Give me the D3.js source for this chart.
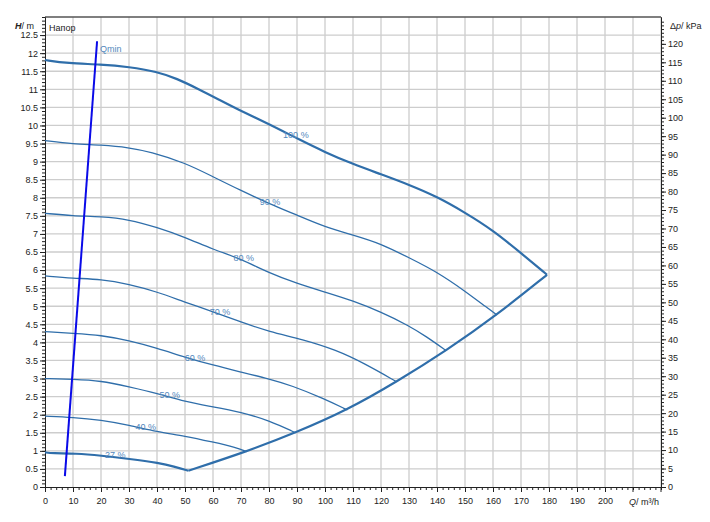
<!DOCTYPE html>
<html>
<head>
<meta charset="utf-8">
<script src="https://cdn.jsdelivr.net/npm/d3@7"></script>
<style>
  body { margin: 0; background: #fff; }
  text { font-family: "Liberation Sans", Arial, sans-serif; }
</style>
</head>
<body>
<script>
// pump curves, Q in m3/h, H in m
const speeds = ["100 %", "90 %", "80 %", "70 %", "60 %", "50 %", "40 %", "27 %"];

const curve100 = [[0,11.81],[8,11.72],[20,11.69],[30,11.62],[40,11.49],[47,11.3],[55,11.0],[62,10.72],[70,10.4],[80,10.04],[90,9.64],[100,9.26],[110,8.93],[120,8.65],[130,8.36],[140,8.03],[150,7.59],[160,7.1],[170,6.47],[179.3,5.87]];
const curve90 = [[0,9.58],[10,9.49],[20,9.46],[30,9.39],[37.5,9.27],[50,8.97],[60,8.58],[70,8.2],[80,7.84],[90,7.52],[100,7.19],[110,6.97],[120,6.73],[130,6.34],[140,5.95],[150,5.42],[158,4.95],[161.4,4.76]];
const curve80 = [[0,7.57],[10,7.5],[20,7.48],[30,7.4],[40,7.18],[50,6.91],[60,6.57],[70,6.31],[80,5.92],[90,5.63],[100,5.39],[110,5.15],[120,4.84],[130,4.46],[136,4.17],[143.3,3.77]];
const curve70 = [[0,5.84],[10,5.77],[20,5.75],[30,5.61],[40,5.4],[50,5.11],[60,4.85],[70,4.56],[80,4.3],[92,4.08],[104,3.79],[114,3.42],[125.6,2.91]];
const curve60 = [[0,4.3],[10,4.25],[20,4.2],[30,4.05],[40,3.84],[50,3.59],[60,3.37],[70,3.18],[80,2.99],[88,2.81],[99.4,2.45],[108,2.13]];
const curve50 = [[0,3.0],[10,2.98],[20,2.94],[30,2.77],[40,2.59],[50,2.36],[60,2.22],[70,2.07],[80,1.84],[89.5,1.5]];
const curve40 = [[0,1.96],[10,1.93],[20,1.85],[30,1.71],[40,1.53],[50,1.41],[60,1.24],[68,1.1],[72,0.98]];
const curve27 = [[0,0.96],[2.5,0.93],[11,0.93],[20,0.87],[30,0.78],[41,0.66],[46,0.57],[51.2,0.45]];

const curves = [curve100, curve90, curve80, curve70, curve60, curve50, curve40, curve27];
const labelQ = [89.6, 80.4, 71, 62.5, 53.6, 44.6, 36, 25.1];

const maxFlow = [[51.2,0.45],[72,0.98],[89.5,1.5],[108,2.13],[125.6,2.91],[143.3,3.77],[161.4,4.76],[179.3,5.87]];
const qmin = [[7.1,0.3],[18.6,12.33]];

const qTicks = d3.range(0, 201, 10);
const hTicks = d3.range(0, 12.51, 0.5);
const pTicks = d3.range(0, 121, 5);
const rhoG = 9.79; // kPa per m

const width = 710, height = 522;
const plotL = 45, plotR = 661, plotT = 17, plotB = 487;

const x = d3.scaleLinear().domain([0, 220]).range([plotL, plotR]);
const y = d3.scaleLinear().domain([0, 13]).range([plotB, plotT]);
const yp = d3.scaleLinear().domain([0, 13 * rhoG]).range([plotB, plotT]);

const blue = "#2f6eaa";
const labelBlue = "#5288bd";

const svg = d3.select("body").append("svg")
    .attr("width", width)
    .attr("height", height);

// grid
svg.append("g").selectAll("line")
  .data(d3.range(10, 221, 10))
  .enter().append("line")
  .attr("x1", d => x(d)).attr("x2", d => x(d))
  .attr("y1", plotT).attr("y2", plotB)
  .attr("stroke", "#cdcdcd").attr("stroke-width", 1.3);

svg.append("g").selectAll("line")
  .data(d3.range(0.5, 13, 0.5))
  .enter().append("line")
  .attr("x1", plotL).attr("x2", plotR)
  .attr("y1", d => y(d)).attr("y2", d => y(d))
  .attr("stroke", "#cdcdcd").attr("stroke-width", 1.3);

svg.append("line")
  .attr("x1", plotL).attr("x2", plotR)
  .attr("y1", plotT).attr("y2", plotT)
  .attr("stroke", "#555").attr("stroke-width", 1.5);

// axes
function styleAxis(g) {
  g.select(".domain").attr("stroke", "#222");
  g.selectAll(".tick line").attr("stroke", "#222");
  g.selectAll("text").attr("fill", "#222").style("font-size", "9px");
}

svg.append("g").attr("transform", `translate(${plotL},0)`)
  .call(d3.axisLeft(y).tickValues(d3.range(0, 13.01, 0.1)).tickSize(3).tickFormat("").tickSizeOuter(0))
  .call(styleAxis);
svg.append("g").attr("transform", `translate(${plotL},0)`)
  .call(d3.axisLeft(y).tickValues(hTicks).tickSize(5).tickPadding(2).tickFormat(d => String(d)).tickSizeOuter(0))
  .call(styleAxis);

svg.append("g").attr("transform", `translate(${plotR},0)`)
  .call(d3.axisRight(yp).tickValues(d3.range(0, 127, 1)).tickSize(3).tickFormat("").tickSizeOuter(0))
  .call(styleAxis);
svg.append("g").attr("transform", `translate(${plotR},0)`)
  .call(d3.axisRight(yp).tickValues(pTicks).tickSize(5).tickPadding(2).tickSizeOuter(0))
  .call(styleAxis);

svg.append("g").attr("transform", `translate(0,${plotB})`)
  .call(d3.axisBottom(x).tickValues(d3.range(0, 220.1, 2)).tickSize(3).tickFormat("").tickSizeOuter(0))
  .call(styleAxis);
svg.append("g").attr("transform", `translate(0,${plotB})`)
  .call(d3.axisBottom(x).tickValues(qTicks).tickSize(5).tickPadding(6).tickSizeOuter(0))
  .call(styleAxis);
svg.append("g").selectAll("line")
  .data([210, 220])
  .enter().append("line")
  .attr("x1", d => x(d)).attr("x2", d => x(d))
  .attr("y1", plotB).attr("y2", plotB + 5)
  .attr("stroke", "#222");

// axis titles
const hTitle = svg.append("text").attr("x", 34).attr("y", 29)
  .attr("text-anchor", "end").style("font-size", "9px").attr("fill", "#222");
hTitle.append("tspan").style("font-weight", "bold").style("font-style", "italic").text("H");
hTitle.append("tspan").text("/ m");

svg.append("text").attr("x", 49).attr("y", 31)
  .style("font-size", "9px").attr("fill", "#222").text("Напор");

const pTitle = svg.append("text").attr("x", 670).attr("y", 29)
  .style("font-size", "9px").attr("fill", "#222");
pTitle.append("tspan").text("Δ");
pTitle.append("tspan").style("font-style", "italic").text("p");
pTitle.append("tspan").text("/ kPa");

const qTitle = svg.append("text").attr("x", 659).attr("y", 505)
  .attr("text-anchor", "end").style("font-size", "9px").attr("fill", "#222");
qTitle.append("tspan").style("font-style", "italic").text("Q");
qTitle.append("tspan").text("/ m³/h");

// curves
const line = d3.line()
    .x(d => x(d[0]))
    .y(d => y(d[1]))
    .curve(d3.curveBasis);

svg.append("g").selectAll("path")
  .data(curves)
  .enter().append("path")
  .attr("d", line)
  .attr("fill", "none")
  .attr("stroke", blue)
  .attr("stroke-width", (d, i) => (i === 0 || i === curves.length - 1) ? 2.2 : 1.3);

svg.append("path")
  .attr("d", line(maxFlow))
  .attr("fill", "none").attr("stroke", blue).attr("stroke-width", 2.2);

svg.append("path")
  .attr("d", d3.line().x(d => x(d[0])).y(d => y(d[1]))(qmin))
  .attr("fill", "none").attr("stroke", "#0a0ae8").attr("stroke-width", 2);

svg.append("text").attr("x", x(qmin[1][0]) + 3).attr("y", y(qmin[1][1]) + 11)
  .style("font-size", "9px").attr("fill", labelBlue).text("Qmin");

// speed labels sit on their curve
function hAt(curve, q) {
  const i = d3.bisector(d => d[0]).left(curve, q);
  const a = curve[Math.max(i - 1, 0)], b = curve[Math.min(i, curve.length - 1)];
  if (b[0] === a[0]) return a[1];
  return a[1] + (b[1] - a[1]) * (q - a[0]) / (b[0] - a[0]);
}

svg.append("g").selectAll("text")
  .data(speeds)
  .enter().append("text")
  .attr("x", (d, i) => x(labelQ[i]))
  .attr("y", (d, i) => y(hAt(curves[i], labelQ[i])) + 0.5)
  .attr("text-anchor", "middle")
  .style("font-size", "9px")
  .attr("fill", labelBlue)
  .text(d => d);
</script>
</body>
</html>
